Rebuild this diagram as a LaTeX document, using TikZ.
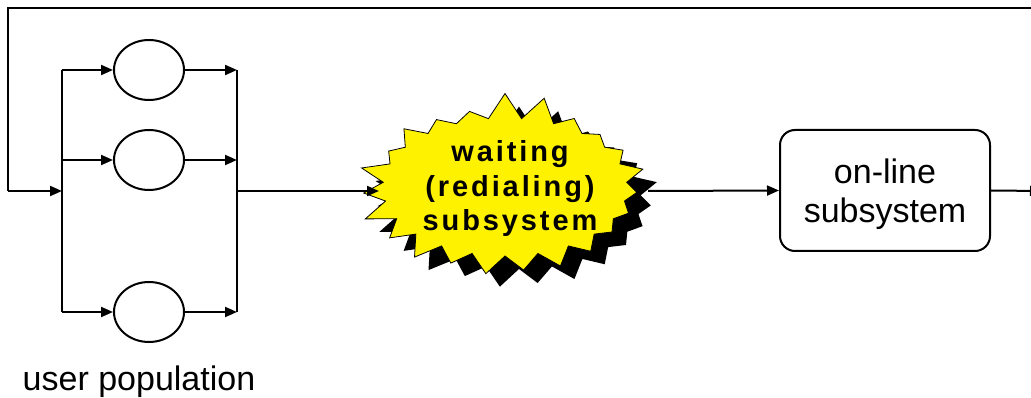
\documentclass[tikz,border=0pt]{standalone}
\usepackage{fontspec}
\setmainfont{Liberation Sans}
\newfontfamily\burstfont[LetterSpace=10]{Liberation Sans}
\usetikzlibrary{arrows.meta,shapes.geometric,shapes.symbols,shadows}
\begin{document}
\begin{tikzpicture}[x=1pt,y=-1pt,
  line width=2pt,
  arr/.style={-{Triangle[length=12pt,width=10pt]}},
  pop/.style={draw,ellipse,minimum width=70pt,minimum height=60pt,inner sep=0pt},
  stage/.style={draw,rounded corners=15pt,minimum width=210pt,minimum height=121pt,inner sep=0pt},
  stagetext/.style={align=center,inner sep=0pt,font=\fontsize{34}{39}\selectfont},
  burst/.style={starburst,starburst points=23,starburst point height=27pt,random starburst=7,
    minimum width=298pt,minimum height=192pt,inner sep=0pt,fill=yellow,draw,line width=0.8pt,
    drop shadow={shadow xshift=14pt,shadow yshift=-13pt,fill=black,opacity=1}},
  bursttext/.style={align=center,inner sep=0pt,font=\burstfont\bfseries\fontsize{29}{34.5}\selectfont},
  lbl/.style={font=\fontsize{34}{39}\selectfont,inner sep=0pt}]
\useasboundingbox (0,0) rectangle (1031,398);
\clip (0,0) rectangle (1031,398);
% coordinates
\coordinate (farR) at (1050,8);
\coordinate (tl) at (8,8);
\coordinate (ml) at (8,191);
\coordinate (lbm) at (62,191);
\coordinate (lb1) at (62,70);
\coordinate (lb2) at (62,160);
\coordinate (lb3) at (62,312);
\coordinate (rb1) at (237,70);
\coordinate (rb2) at (237,160);
\coordinate (rb3) at (237,312);
\coordinate (rbm) at (237,191);
\coordinate (bin) at (379,191);
\coordinate (bout) at (648,191);
\coordinate (out) at (1042,191);
% nodes
\node[pop] (e1) at (149,70) {};
\node[pop] (e2) at (149,160) {};
\node[pop] (e3) at (149,312) {};
\node[burst] (burst) at (505,187) {};
\node[bursttext] (bt) at (510,189) {waiting\\(redialing)\\subsystem};
\node[stage] (online) at (885,190.5) {};
\node[stagetext] (ot) at (885,194) {on-line\\subsystem};
\node[lbl] (up) at (139,382) {user population};
% connectors
\draw (farR) -- (tl) -- (ml);
\draw[arr] (ml) -- (lbm);
\draw (lb1) -- (lb3);
\draw (rb1) -- (rb3);
\draw[arr] (lb1) -- (e1);
\draw[arr] (lb2) -- (e2);
\draw[arr] (lb3) -- (e3);
\draw[arr] (e1) -- (rb1);
\draw[arr] (e2) -- (rb2);
\draw[arr] (e3) -- (rb3);
\draw[arr] (rbm) -- (bin);
\draw[arr] (bout) -- (online.west);
\draw[arr] (online.east) -- (out);
\end{tikzpicture}
\end{document}
